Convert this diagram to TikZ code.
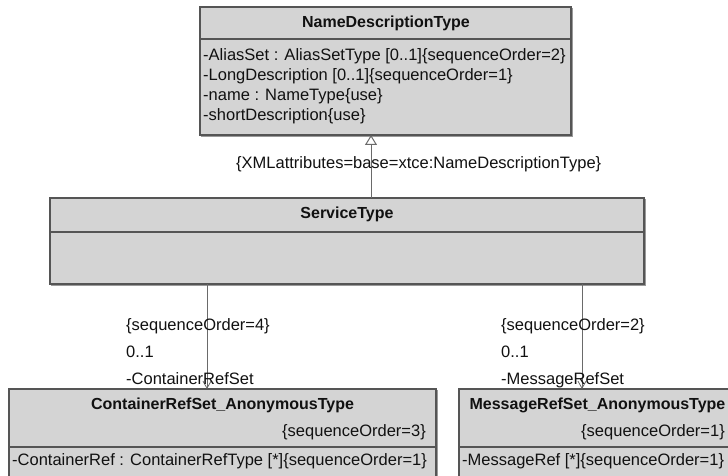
\documentclass[tikz,border=0pt]{standalone}
\usepackage{fontspec}
\setmainfont{Liberation Sans}
\usetikzlibrary{arrows.meta}
\definecolor{boxfill}{HTML}{D4D4D4}
\definecolor{boxdraw}{HTML}{555555}
\definecolor{boxshadow}{HTML}{9A9A9A}
\definecolor{wire}{HTML}{6A6A6A}
\definecolor{txt}{HTML}{111111}
\begin{document}
\begin{tikzpicture}[x=1pt,y=-1pt,
  umlbox/.style={draw=boxdraw, fill=boxfill, line width=1.3pt, rectangle, inner sep=0pt, outer sep=0pt,
    preaction={draw=boxshadow, fill=boxshadow, line width=1.3pt, transform canvas={shift={(1.5pt,-1.5pt)}}}},
  divline/.style={draw=boxdraw, line width=1.3pt},
  ttl/.style={font=\fontsize{16}{19}\selectfont\bfseries, text=txt, inner sep=0pt, anchor=base},
  attr/.style={font=\fontsize{16.5}{20}\selectfont, text=txt, inner sep=0pt, anchor=base west},
  attrr/.style={font=\fontsize{16.5}{20}\selectfont, text=txt, inner sep=0pt, anchor=base east},
  genarrow/.style={draw=wire, line width=1pt, -{Triangle[open, length=10pt, width=12pt, line width=1pt]}},
  assoc/.style={draw=wire, line width=1pt, -{Straight Barb[length=7pt, width=8pt, line width=0.8pt]}}
]
\useasboundingbox (0,0) rectangle (728,476);
\clip (0,0) rectangle (728,476);

% boxes
\node[umlbox, minimum width=371pt, minimum height=128pt] (ndt) at (385.5,71) {};
\draw[divline] (ndt.west |- 0,39) -- (ndt.east |- 0,39);
\node[umlbox, minimum width=594pt, minimum height=86pt] (st) at (347,241) {};
\draw[divline] (st.west |- 0,232) -- (st.east |- 0,232);
\node[umlbox, minimum width=427pt, minimum height=111pt] (crs) at (222.5,444.5) {};
\draw[divline] (crs.west |- 0,447) -- (crs.east |- 0,447);
\node[umlbox, minimum width=277pt, minimum height=111pt] (mrs) at (597.5,444.5) {};
\draw[divline] (mrs.west |- 0,447) -- (mrs.east |- 0,447);

% NameDescriptionType texts
\node[ttl] (ndtT) at (386,28) {NameDescriptionType};
\node[attr] (ndtA1) at (203,61) {-AliasSet : AliasSetType [0..1]\{sequenceOrder=2\}};
\node[attr] (ndtA2) at (203,81) {-LongDescription [0..1]\{sequenceOrder=1\}};
\node[attr] (ndtA3) at (203,101) {-name : NameType\{use\}};
\node[attr] (ndtA4) at (203,121) {-shortDescription\{use\}};

% ServiceType
\node[ttl] (stT) at (347,218) {ServiceType};

% ContainerRefSet
\node[ttl] (crsT) at (222.5,409) {ContainerRefSet\_AnonymousType};
\node[attrr] (crsS) at (426,436) {\{sequenceOrder=3\}};
\node[attr] (crsA) at (12,465) {-ContainerRef : ContainerRefType [*]\{sequenceOrder=1\}};

% MessageRefSet
\node[ttl] (mrsT) at (597.5,409) {MessageRefSet\_AnonymousType};
\node[attrr] (mrsS) at (725,436) {\{sequenceOrder=1\}};
\node[attr] (mrsA) at (462,465) {-MessageRef [*]\{sequenceOrder=1\}};

% connectors
\coordinate (g) at (371,0);
\coordinate (a1) at (207,0);
\coordinate (a2) at (582,0);
\draw[genarrow] (st.north -| g) -- (ndt.south -| g);
\draw[assoc] (st.south -| a1) -- (crs.north -| a1);
\draw[assoc] (st.south -| a2) -- (mrs.north -| a2);

% connector labels
\node[attr] (gl) at (236,168) {\{XMLattributes=base=xtce:NameDescriptionType\}};
\node[attr] (l1) at (126,330) {\{sequenceOrder=4\}};
\node[attr] (l2) at (126,357) {0..1};
\node[attr] (l3) at (126,384) {-ContainerRefSet};
\node[attr] (r1) at (501,330) {\{sequenceOrder=2\}};
\node[attr] (r2) at (501,357) {0..1};
\node[attr] (r3) at (501,384) {-MessageRefSet};
\end{tikzpicture}
\end{document}
